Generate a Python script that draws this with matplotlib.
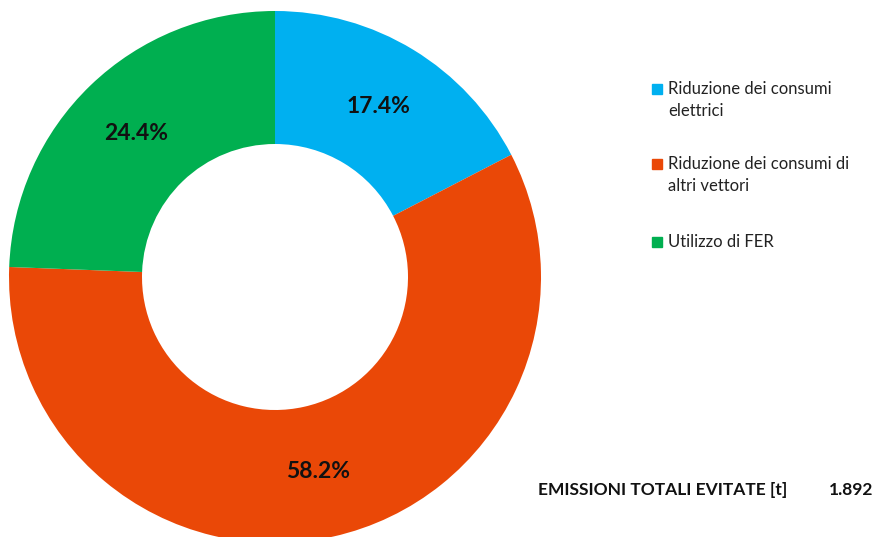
import matplotlib
matplotlib.use("Agg")
import matplotlib.pyplot as plt
from matplotlib.patches import Rectangle

plt.rcParams['font.family'] = ['Lato', 'DejaVu Sans']

labels = ["Riduzione dei consumi\nelettrici",
          "Riduzione dei consumi di\naltri vettori",
          "Utilizzo di FER"]
shares = [17.4, 58.2, 24.4]
colors = ["#00B0F0", "#EA4807", "#00AF50"]
total_label = "EMISSIONI TOTALI EVITATE [t]"
total_value = "1.892"

W, H = 875, 537
fig = plt.figure(figsize=(W / 100, H / 100), dpi=100)

# pie box in pixels: centre (275, 277) from top-left, radius 266
cx, cy, R = 275, 277, 266
ax = fig.add_axes([(cx - R) / W, (H - cy - R) / H, 2 * R / W, 2 * R / H])
wedges, texts, autotexts = ax.pie(
    shares,
    colors=colors,
    startangle=90,
    counterclock=False,
    autopct="%.1f%%",
    pctdistance=0.75,
    wedgeprops=dict(width=0.5, linewidth=0),
    textprops=dict(fontsize=16.5, fontweight="bold", color="#111111"),
)
ax.set_xlim(-1, 1)
ax.set_ylim(-1, 1)
ax.axis("off")

# legend drawn by hand so the square sits on the first text line
ys = [89, 164, 242]
for lab, col, y in zip(labels, colors, ys):
    fig.patches.append(Rectangle((652 / W, 1 - (y + 5) / H), 10 / W, 10 / H,
                                 transform=fig.transFigure, color=col))
    fig.text(668 / W, 1 - (y - 8) / H, lab, fontsize=12, color="#222222",
             va="top", ha="left", linespacing=1.45)

fig.text(538 / W, 1 - 490 / H, total_label, fontsize=12.5, fontweight="bold",
         color="#111111", va="center", ha="left")
fig.text(873 / W, 1 - 490 / H, total_value, fontsize=12.5, fontweight="bold",
         color="#111111", va="center", ha="right")

fig.savefig("out.png", dpi=100, facecolor="white")
